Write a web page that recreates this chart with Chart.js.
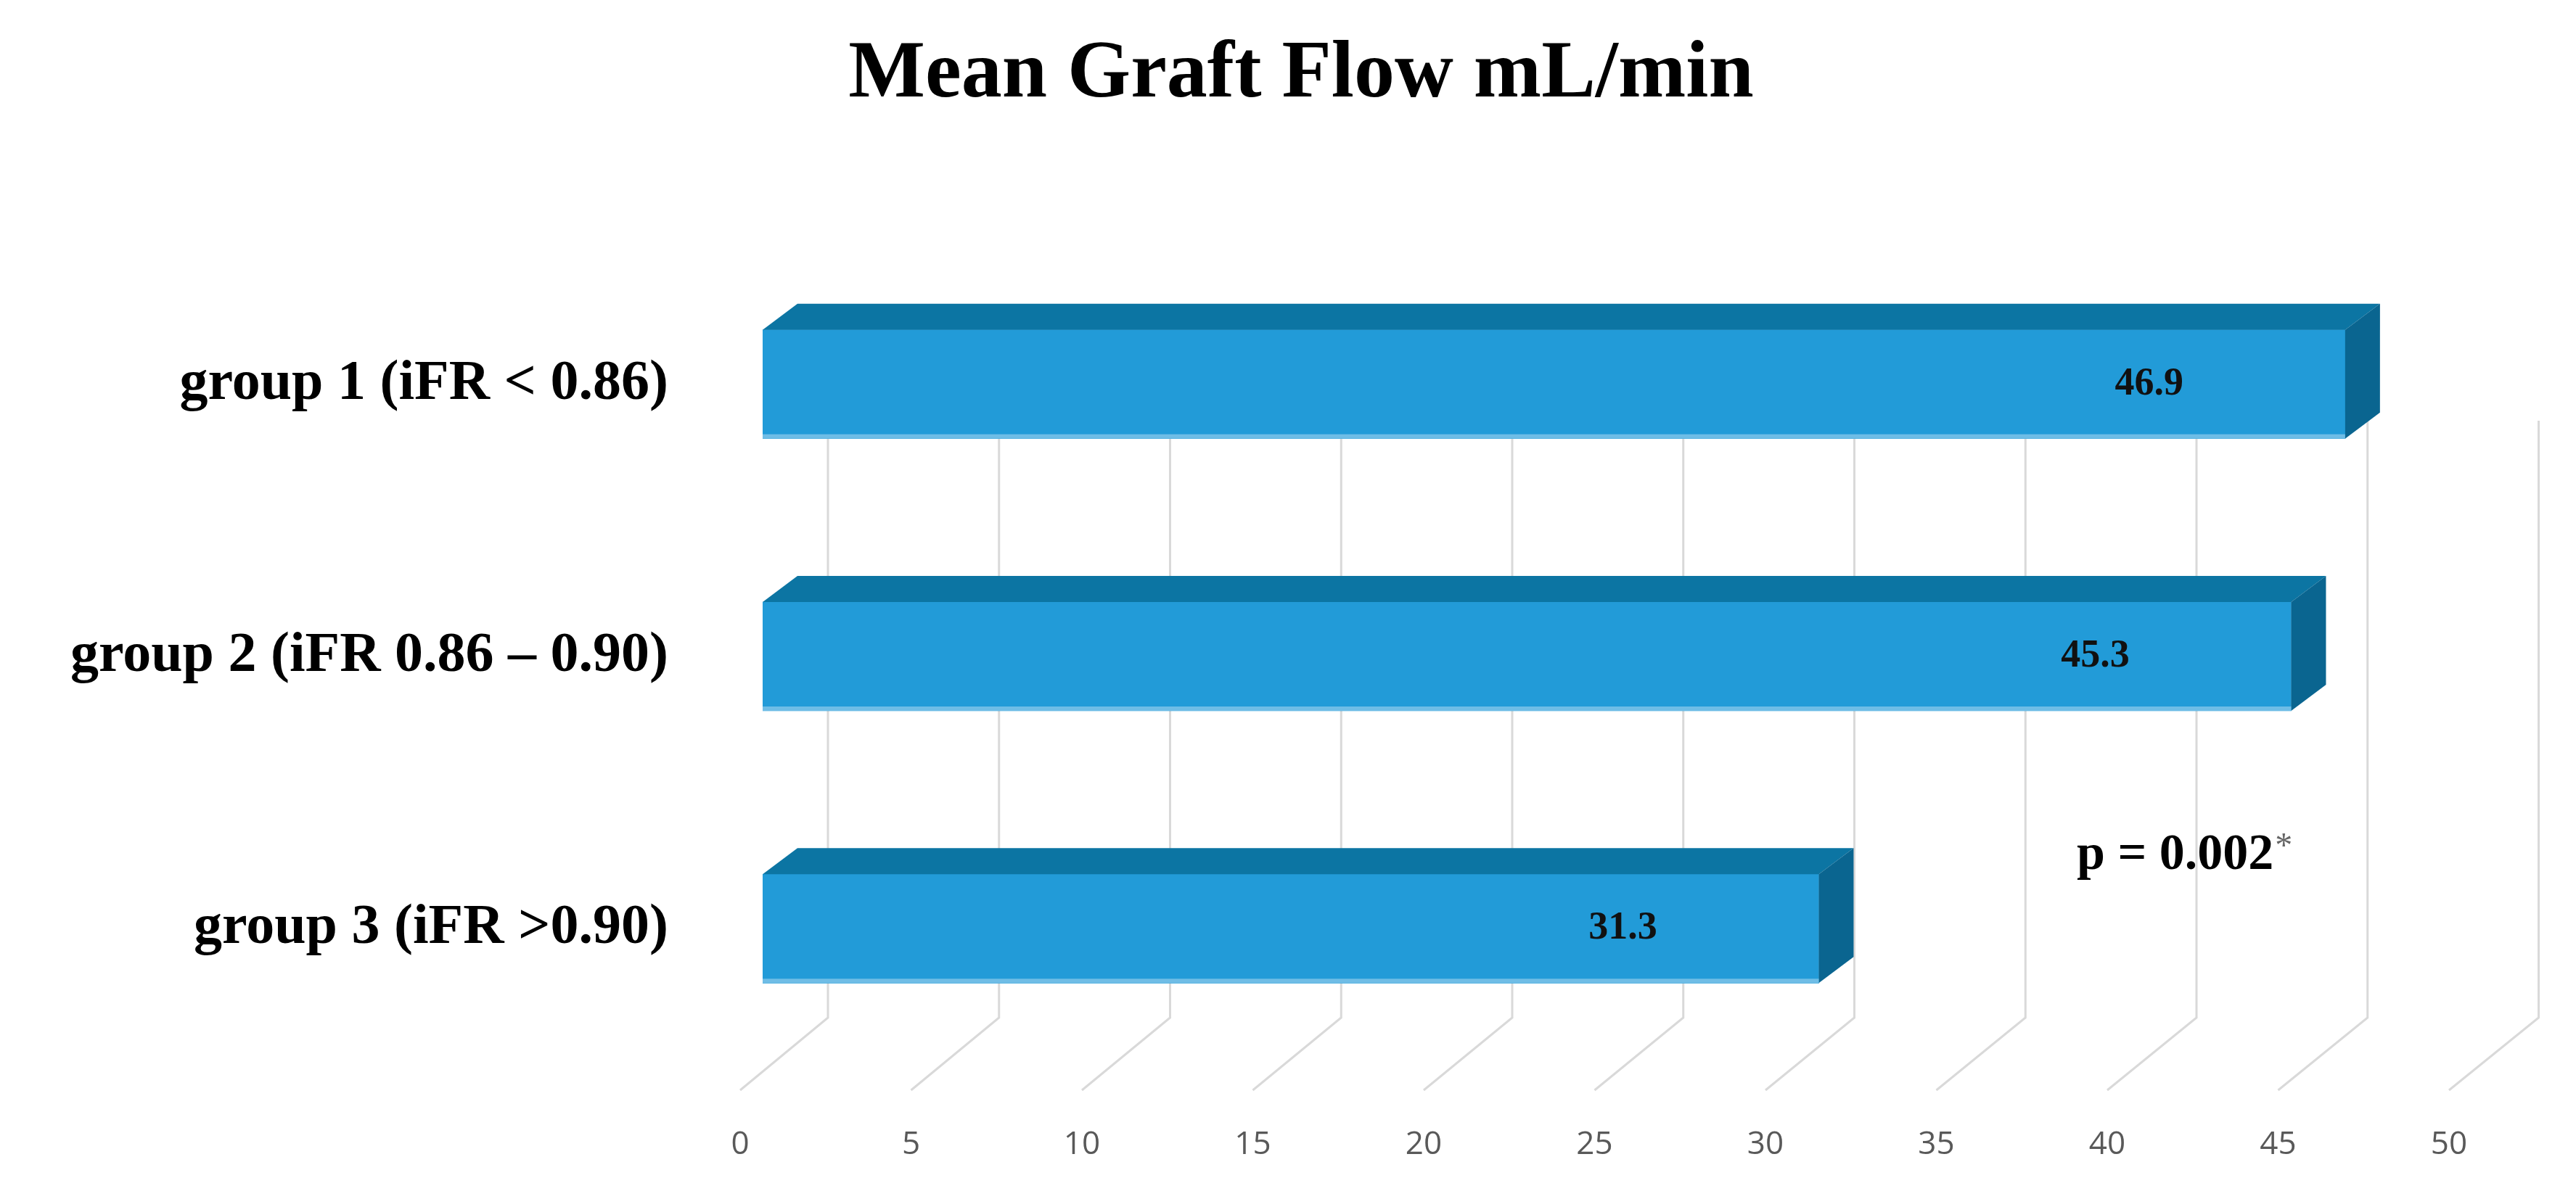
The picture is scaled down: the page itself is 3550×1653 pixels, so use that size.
<!DOCTYPE html>
<html><head><meta charset="utf-8">
<script src="https://cdn.jsdelivr.net/npm/chart.js@4"></script>
<style>html,body{margin:0;padding:0;background:#fff}</style>
</head><body>
<canvas id="c" width="3550" height="1653"></canvas>
<script>
const categories = ["group 1 (iFR < 0.86)", "group 2 (iFR 0.86 – 0.90)", "group 3 (iFR >0.90)"];
const meanFlow = [46.9, 45.3, 31.3];
const tickValues = [0, 5, 10, 15, 20, 25, 30, 35, 40, 45, 50];
const chartTitle = "Mean Graft Flow mL/min";
const pNote = "p = 0.002";

const DX = 48, DY = -36;
const deco = {
  id: 'deco',
  beforeDatasetsDraw(chart) {
    const ctx = chart.ctx, xs = chart.scales.x;
    ctx.save();
    ctx.strokeStyle = '#D9D9D9'; ctx.lineWidth = 3;
    const top = 580, mid = 1403, bot = 1503;
    tickValues.forEach(v => {
      const px = xs.getPixelForValue(v);
      const back = px + 90 + v * 0.65;
      const front = px - 31 + v * 0.6;
      ctx.beginPath(); ctx.moveTo(back, top); ctx.lineTo(back, mid); ctx.lineTo(front, bot); ctx.stroke();
      ctx.fillStyle = '#595959'; ctx.font = '44px "Open Sans"'; ctx.textAlign = 'center'; ctx.textBaseline = 'middle';
      ctx.fillText(String(v), front, 1578);
    });
    ctx.restore();
  },
  afterDatasetsDraw(chart) {
    const ctx = chart.ctx, meta = chart.getDatasetMeta(0);
    ctx.save();
    meta.data.forEach((b, i) => {
      const l = b.base, r = b.x, t = b.y - b.height / 2, btm = b.y + b.height / 2;
      ctx.fillStyle = '#0C75A3';
      ctx.beginPath(); ctx.moveTo(l, t); ctx.lineTo(l + DX, t + DY); ctx.lineTo(r + DX, t + DY); ctx.lineTo(r, t); ctx.closePath(); ctx.fill();
      ctx.fillStyle = '#0A6590';
      ctx.beginPath(); ctx.moveTo(r, t); ctx.lineTo(r + DX, t + DY); ctx.lineTo(r + DX, btm + DY); ctx.lineTo(r, btm); ctx.closePath(); ctx.fill();
      ctx.fillStyle = '#6FBDE6'; ctx.fillRect(l, btm - 6, r - l, 6);
      ctx.fillStyle = '#111'; ctx.font = 'bold 54px "Liberation Serif"'; ctx.textAlign = 'center'; ctx.textBaseline = 'middle';
      ctx.fillText(String(meanFlow[i]), r - 270, b.y);
    });
    ctx.fillStyle = '#000'; ctx.font = 'bold 112px "Liberation Serif"'; ctx.textAlign = 'center'; ctx.textBaseline = 'middle';
    ctx.fillText(chartTitle, 1793, 104);
    ctx.font = 'bold 70px "Liberation Serif"'; ctx.textAlign = 'left';
    ctx.fillText(pNote, 2862, 1180);
    const w = ctx.measureText(pNote).width;
    ctx.fillStyle = '#666'; ctx.font = '48px "Liberation Serif"';
    ctx.fillText('*', 2862 + w + 2, 1168);
    ctx.restore();
  }
};

new Chart(document.getElementById('c'), {
  type: 'bar',
  data: { labels: categories, datasets: [{ data: meanFlow, backgroundColor: '#229BD8', barThickness: 150, borderWidth: 0 }] },
  options: {
    indexAxis: 'y', responsive: false, animation: false, devicePixelRatio: 1,
    layout: { padding: { left: 0, right: 174, top: 342, bottom: 185 } },
    plugins: { legend: { display: false }, tooltip: { enabled: false } },
    scales: {
      x: { display: false, min: 0, max: 50 },
      y: {
        grid: { display: false }, border: { display: false },
        afterFit(s) { s.width = 1051; },
        ticks: { padding: 122, color: '#000', font: { family: 'Liberation Serif', weight: 'bold', size: 78 } }
      }
    }
  },
  plugins: [deco]
});
</script>
</body></html>
